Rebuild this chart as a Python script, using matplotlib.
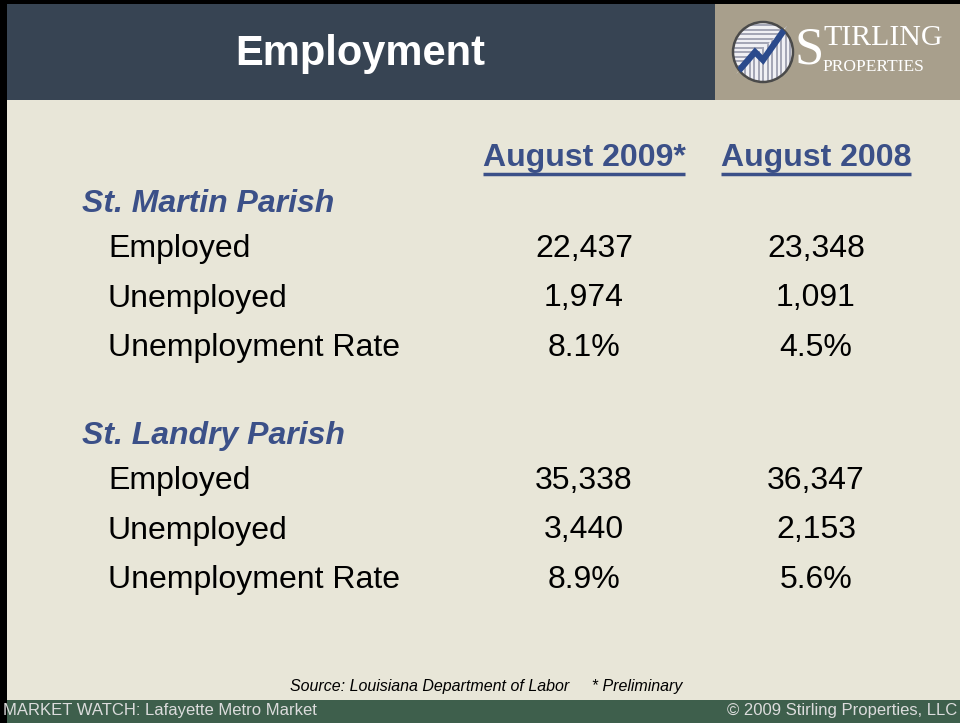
import matplotlib
matplotlib.use("Agg")
import matplotlib.pyplot as plt
from matplotlib.patches import Rectangle, Circle, Polygon
import numpy as np

plt.rcParams['font.family'] = ['Liberation Sans', 'DejaVu Sans']

# Donnees
titre = "Employment"
colonnes = ["August 2009*", "August 2008"]
paroisses = ["St. Martin Parish", "St. Landry Parish"]
indicateurs = ["Employed", "Unemployed", "Unemployment Rate"]
valeurs_2009 = [["22,437", "1,974", "8.1%"], ["35,338", "3,440", "8.9%"]]
valeurs_2008 = [["23,348", "1,091", "4.5%"], ["36,347", "2,153", "5.6%"]]
source = "Source: Louisiana Department of Labor     * Preliminary"
pied_gauche = "MARKET WATCH: Lafayette Metro Market"
pied_droite = "\u00a9 2009 Stirling Properties, LLC"

# Couleurs
fond = "#e8e6d8"
bandeau = "#374453"
logo_fond = "#a89f8c"
vert = "#3e5f4c"
bleu = "#3b5088"

W, H = 960, 723
fig = plt.figure(figsize=(W / 100, H / 100), dpi=100)
fig.patch.set_facecolor("black")
# axe en pixels, y vers le bas
ax = fig.add_axes([0, 0, 1, 1])
ax.set_xlim(0, W)
ax.set_ylim(H, 0)
ax.axis("off")


def rect(x0, y0, x1, y1, c):
    ax.add_patch(Rectangle((x0, y0), x1 - x0, y1 - y0, facecolor=c, edgecolor="none"))


def txt(x, y, s, **kw):
    return ax.text(x, y, s, va="center", **kw)


rect(7, 4, 960, 723, fond)
rect(7, 4, 715, 100, bandeau)
rect(715, 4, 960, 100, logo_fond)
rect(7, 700, 960, 723, vert)

txt(360, 54, titre, ha="center", color="white", fontsize=30, fontweight="bold")

# logo
cx, cy, r = 763, 52, 30
ax.add_patch(Circle((cx, cy), r, facecolor="#f0f0f4", edgecolor="none"))
courbe_x = [736, 755, 763, 787]
courbe_y = [74, 52, 60, 26]
a = np.linspace(np.arctan2(courbe_y[-1] - cy, courbe_x[-1] - cx),
                np.arctan2(courbe_y[0] - cy, courbe_x[0] - cx), 40)
bas = np.column_stack([np.r_[courbe_x[::-1], cx + r * np.cos(a)],
                       np.r_[courbe_y[::-1], cy + r * np.sin(a)]])
clip_bas = Polygon(bas, closed=True, facecolor="none", edgecolor="none")
ax.add_patch(clip_bas)
clip_cercle = Circle((cx, cy), r, facecolor="none", edgecolor="none")
ax.add_patch(clip_cercle)
for k in np.arange(cy - r + 3, cy + r, 4.5):
    l, = ax.plot([cx - r, cx + r], [k, k], color="#9da0b0", lw=1.3)
    l.set_clip_path(clip_cercle)
ax.add_patch(Polygon(bas, closed=True, facecolor="#f0f0f4", edgecolor="none", zorder=2.5))
for k in np.arange(cx - r + 3, cx + r, 4.5):
    l, = ax.plot([k, k], [cy - r, cy + r], color="#9da0b0", lw=1.3, zorder=2.6)
    l.set_clip_path(clip_bas)
ax.add_patch(Circle((cx, cy), r, facecolor="none", edgecolor="#4a4a4a", lw=1.8, zorder=3))
l, = ax.plot(courbe_x, courbe_y, color="#2b4a8c", lw=4.5, zorder=3.5,
             solid_joinstyle="miter")
l.set_clip_path(clip_cercle)
txt(794, 50, "S", color="white", fontsize=38, family="Liberation Serif")
txt(823, 38, "TIRLING", color="white", fontsize=21.5, family="Liberation Serif")
txt(822, 67, "PROPERTIES", color="white", fontsize=12.5, family="Liberation Serif")

# colonnes
col_x = [584, 816]
fig.canvas.draw()
rend = fig.canvas.get_renderer()
for cx_, lab in zip(col_x, colonnes):
    t = txt(cx_, 158, lab, ha="center", color=bleu, fontsize=23, fontweight="bold")
    bb = t.get_window_extent(rend)
    ax.plot([bb.x0, bb.x1], [174, 174], color=bleu, lw=2.5, solid_capstyle="butt")

# lignes
y0s = [204, 436]
for p, nom in enumerate(paroisses):
    y = y0s[p]
    txt(82, y, nom, color=bleu, fontsize=23, fontweight="bold", fontstyle="italic")
    for i, ind in enumerate(indicateurs):
        yy = y + 45 + i * 49.5
        txt(108, yy, ind, color="black", fontsize=23)
        txt(col_x[0], yy, valeurs_2009[p][i], ha="center", color="black", fontsize=23)
        txt(col_x[1], yy, valeurs_2008[p][i], ha="center", color="black", fontsize=23)

txt(486, 687, source, ha="center", color="black", fontsize=11.5, fontstyle="italic")
txt(3, 711, pied_gauche, color="#dcdcdc", fontsize=12)
txt(957, 711, pied_droite, ha="right", color="#dcdcdc", fontsize=12)

fig.savefig("out.png", dpi=100, facecolor=fig.get_facecolor())
